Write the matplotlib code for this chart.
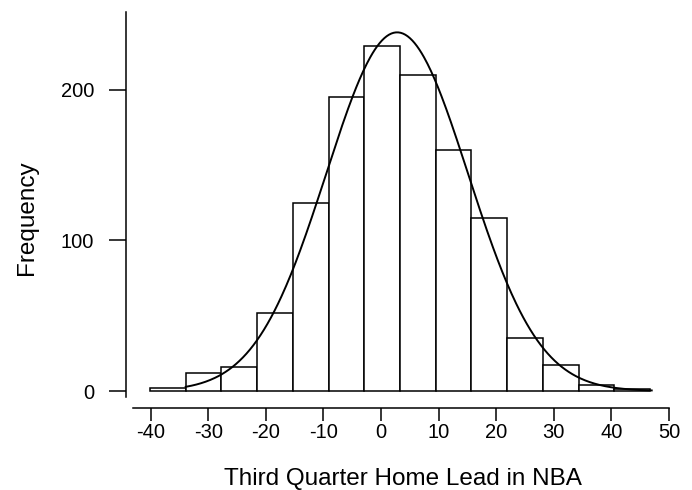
#!/usr/bin/env python3
"""Histogram of third quarter home lead in NBA with a fitted normal curve."""
import numpy as np
import matplotlib
matplotlib.use("Agg")
import matplotlib.pyplot as plt

# bins (width ~6.2 points)
bin_edges = [-40.1, -33.9, -27.7, -21.5, -15.3, -9.1, -2.9, 3.3,
             9.5, 15.7, 21.9, 28.1, 34.3, 40.5, 46.7]
counts = [2, 12, 16, 52, 125, 195, 229, 210, 160, 115, 35, 17, 4, 1]

# fitted normal curve
curve_mean = 2.8
curve_sd = 12.3
curve_peak = 238
curve_range = (-33.9, 47.0)

x_ticks = [-40, -30, -20, -10, 0, 10, 20, 30, 40, 50]
y_ticks = [0, 100, 200]

plt.rcParams.update({
    "font.family": ["Liberation Sans", "DejaVu Sans"],
    "axes.unicode_minus": False,
})

fig = plt.figure(figsize=(6.92, 4.90), dpi=100)
ax = fig.add_axes([126 / 692, 82 / 490, 543 / 692, 396 / 490])

widths = np.diff(bin_edges)
ax.bar(bin_edges[:-1], counts, width=widths, align="edge",
       facecolor="white", edgecolor="black", linewidth=1.1, zorder=2)

xs = np.linspace(curve_range[0], curve_range[1], 400)
ys = curve_peak * np.exp(-0.5 * ((xs - curve_mean) / curve_sd) ** 2)
ax.plot(xs, ys, color="black", linewidth=1.4, zorder=3)

ax.set_xlim(-44.27, 50)
ax.set_ylim(-11.28, 251.5)

for side in ("top", "right"):
    ax.spines[side].set_visible(False)
ax.spines["left"].set_bounds(-3.8, 251.5)
ax.spines["bottom"].set_bounds(-43.1, 50)
for side in ("left", "bottom"):
    ax.spines[side].set_linewidth(1.1)

ax.set_xticks(x_ticks)
ax.set_xticklabels([str(v) for v in x_ticks])
ax.set_yticks(y_ticks)
ax.set_yticklabels([str(v) for v in y_ticks])
ax.tick_params(axis="x", direction="out", length=9.4, width=1.1, pad=1.5,
               labelsize=14.5)
ax.tick_params(axis="y", direction="out", length=12, width=1.1, pad=10.8,
               labelsize=14.5)

fig.text(403 / 692, (490 - 485) / 490, "Third Quarter Home Lead in NBA",
         ha="center", va="baseline", fontsize=17.5)
fig.text(27 / 692, 1 - 218 / 490, "Frequency", rotation=90,
         ha="center", va="center", fontsize=17.5)

fig.savefig("out.png", dpi=100, facecolor="white")
